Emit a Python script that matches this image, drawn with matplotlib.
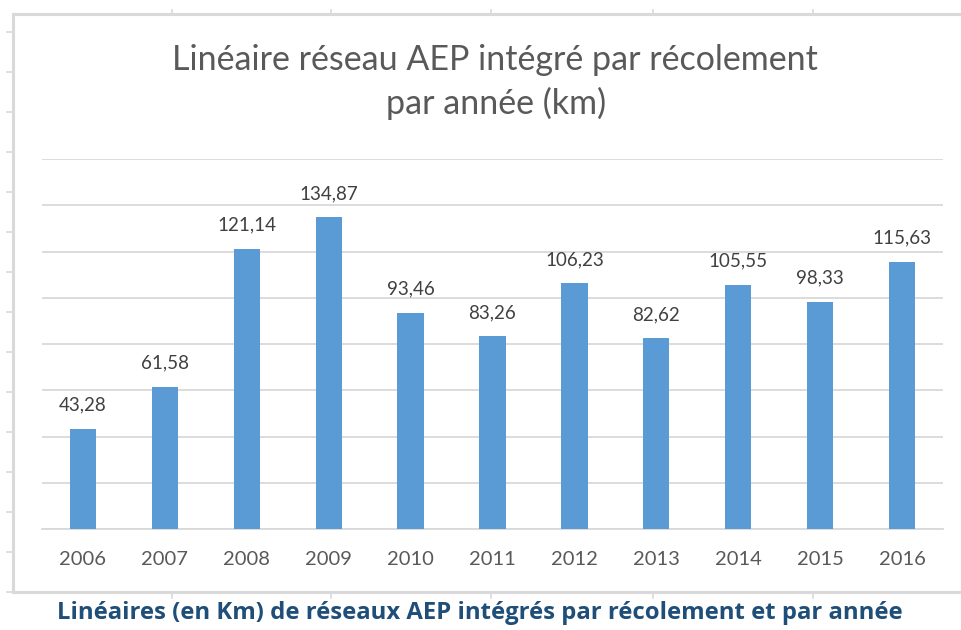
import matplotlib
matplotlib.use("Agg")
import matplotlib.pyplot as plt
from matplotlib.lines import Line2D

years = ["2006", "2007", "2008", "2009", "2010", "2011", "2012", "2013", "2014", "2015", "2016"]
values = [43.28, 61.58, 121.14, 134.87, 93.46, 83.26, 106.23, 82.62, 105.55, 98.33, 115.63]
labels = ["43,28", "61,58", "121,14", "134,87", "93,46", "83,26", "106,23", "82,62", "105,55", "98,33", "115,63"]
title_lines = ["Linéaire réseau AEP intégré par récolement", "par année (km)"]
caption = "Linéaires (en Km) de réseaux AEP intégrés par récolement et par année"

W, H = 961, 630
fig = plt.figure(figsize=(W / 100, H / 100), dpi=100)
fig.patch.set_facecolor("white")

def fx(px):
    return px / W

def fy(py):
    return 1 - py / H

# spreadsheet-like outer frame
fc = "#d9d9d9"
fig.add_artist(Line2D([fx(13), fx(13)], [fy(14), fy(592)], color=fc, lw=2.2, transform=fig.transFigure))
fig.add_artist(Line2D([fx(13), 1], [fy(14), fy(14)], color=fc, lw=2.2, transform=fig.transFigure))
fig.add_artist(Line2D([fx(13), 1], [fy(592), fy(592)], color=fc, lw=2.2, transform=fig.transFigure))
for ty in range(32, 600, 40):
    fig.add_artist(Line2D([fx(7), fx(13)], [fy(ty), fy(ty)], color=fc, lw=1.2, transform=fig.transFigure))
for tx in [172, 331, 491, 653, 813]:
    fig.add_artist(Line2D([fx(tx), fx(tx)], [fy(10), fy(14)], color=fc, lw=1.2, transform=fig.transFigure))
    fig.add_artist(Line2D([fx(tx), fx(tx)], [fy(592), fy(598)], color=fc, lw=1.2, transform=fig.transFigure))

ax = fig.add_axes([fx(42), fy(529), fx(943) - fx(42), fy(159) - fy(529)])
x = list(range(len(years)))
ax.bar(x, values, width=0.32, color="#5B9BD5", zorder=3)
ax.set_xlim(-0.5, len(years) - 0.5)
ax.set_ylim(0, 160)
ax.set_yticks(range(0, 161, 20))
ax.yaxis.grid(True, color="#d9d9d9", lw=1.3, zorder=0)
ax.tick_params(axis="y", left=False, labelleft=False)
ax.set_xticks(x)
ax.set_xticklabels(years, fontsize=14.5, color="#595959", family="Lato")
ax.tick_params(axis="x", length=0, pad=16)
for s in ["top", "right", "left"]:
    ax.spines[s].set_visible(False)
ax.spines["bottom"].set_color("#d9d9d9")
ax.spines["bottom"].set_linewidth(1.3)

for xi, v, lab in zip(x, values, labels):
    ax.annotate(lab, (xi, v), xytext=(0, 13), textcoords="offset points",
                ha="center", va="baseline", fontsize=13.5, color="#404040", family="Lato")

fig.text(fx(495), fy(70), title_lines[0], ha="center", va="baseline", fontsize=24.5,
         color="#595959", family="Lato")
fig.text(fx(496), fy(114), title_lines[1], ha="center", va="baseline", fontsize=24.5,
         color="#595959", family="Lato")
fig.text(fx(480), fy(613), caption, ha="center", va="center", fontsize=17.2, color="#1F4E79",
         family="Open Sans", fontweight="bold")

fig.savefig("out.png", dpi=100, facecolor="white")
